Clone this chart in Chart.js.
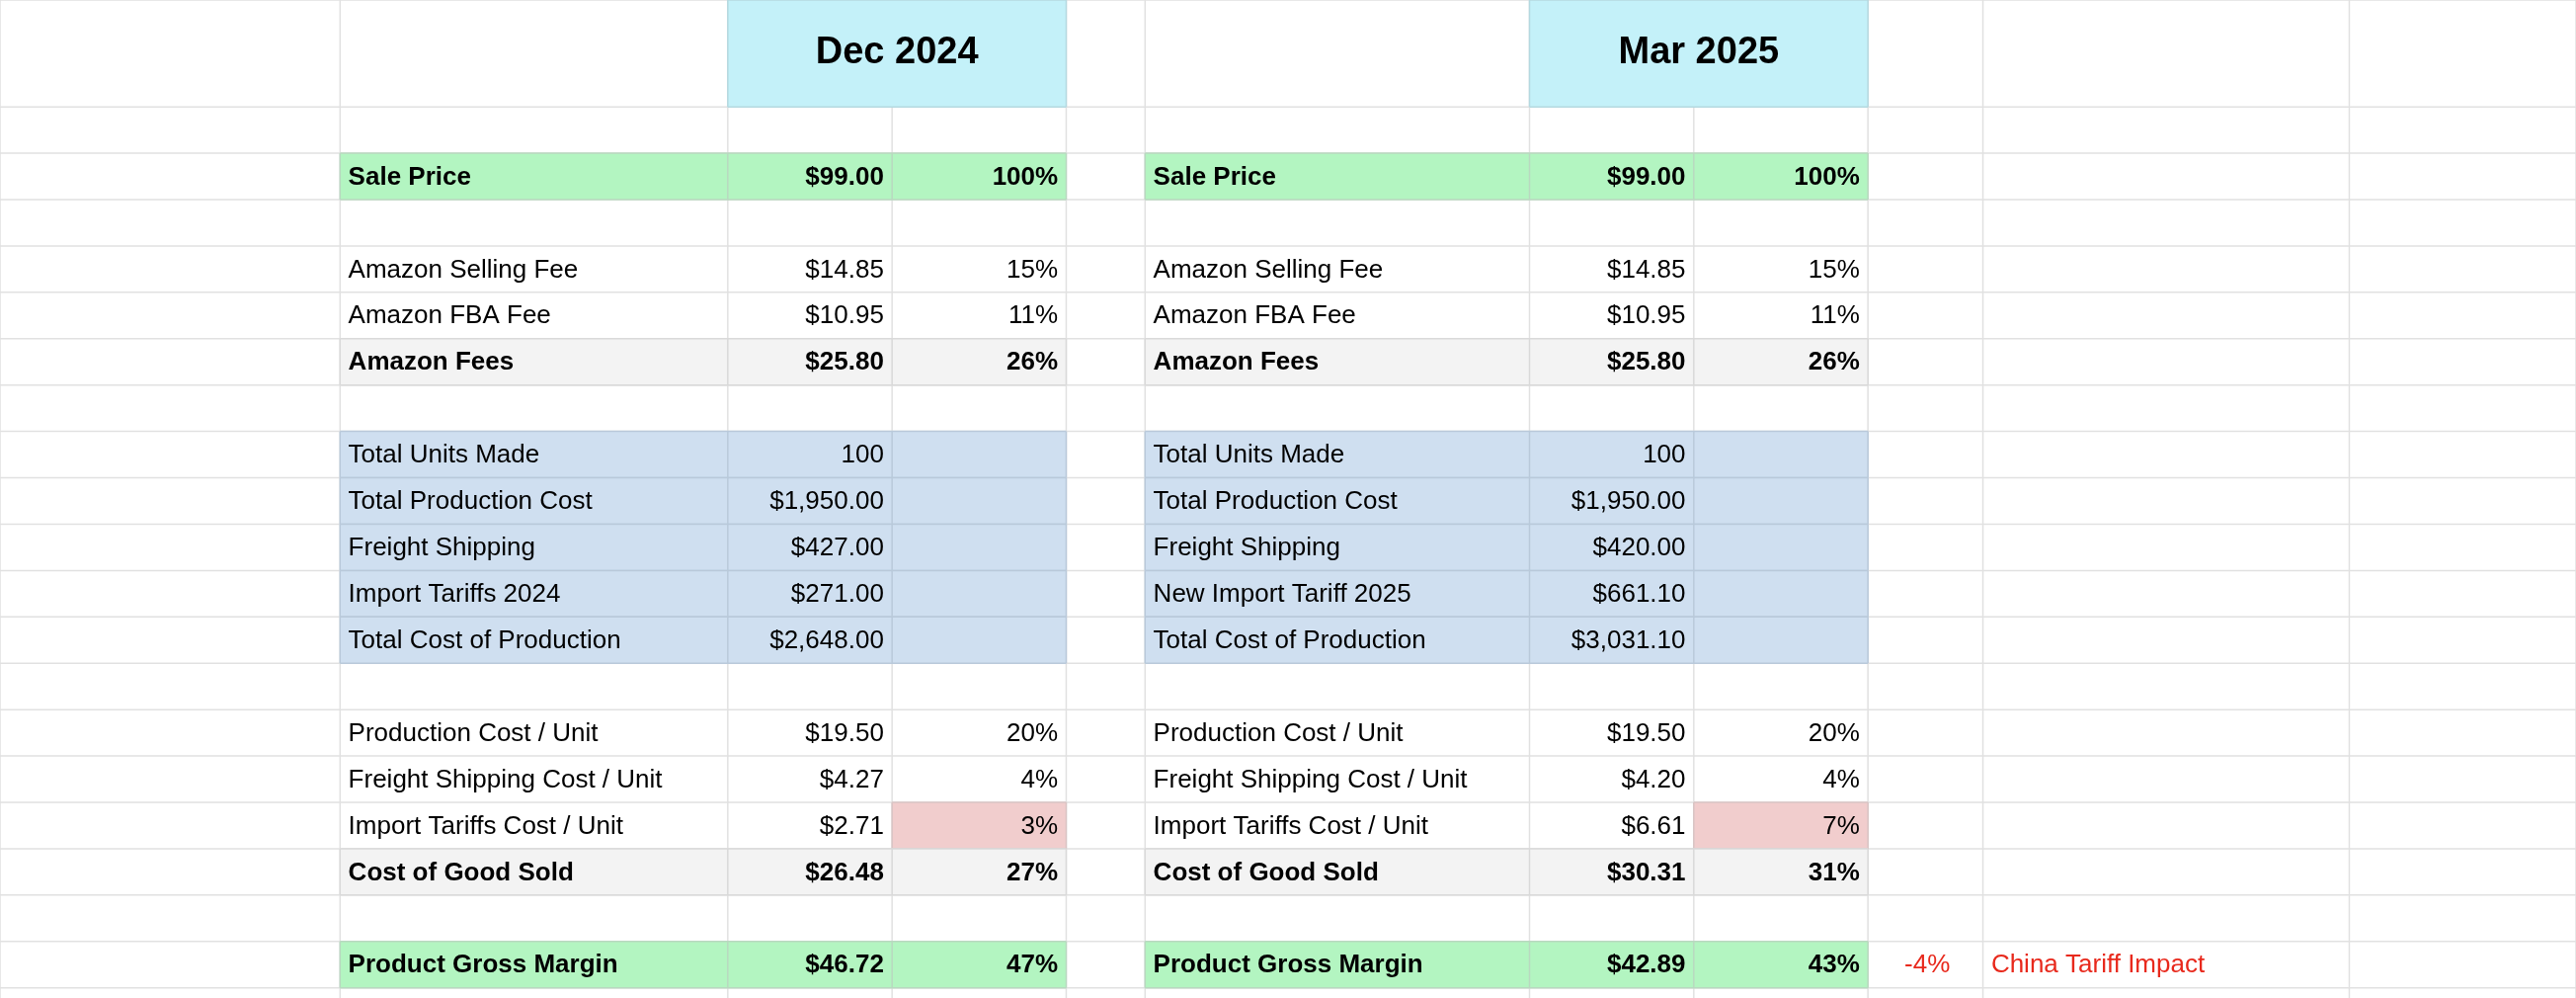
<!DOCTYPE html>
<html>
<head>
<meta charset="utf-8">
<script src="https://cdn.jsdelivr.net/npm/chart.js@4/dist/chart.umd.min.js"></script>
<style>
  html, body { margin: 0; padding: 0; background: #fff; }
  #wrap { width: 2608px; height: 1010px; }
</style>
</head>
<body>
<div id="wrap"><canvas id="sheet"></canvas></div>
<script>
// =======================
// DATA
// =======================
const periods = ["Dec 2024", "Mar 2025"];
const decLabels = ["", "", "Sale Price", "", "Amazon Selling Fee", "Amazon FBA Fee", "Amazon Fees", "",
  "Total Units Made", "Total Production Cost", "Freight Shipping", "Import Tariffs 2024", "Total Cost of Production", "",
  "Production Cost / Unit", "Freight Shipping Cost / Unit", "Import Tariffs Cost / Unit", "Cost of Good Sold", "", "Product Gross Margin"];
const marLabels = ["", "", "Sale Price", "", "Amazon Selling Fee", "Amazon FBA Fee", "Amazon Fees", "",
  "Total Units Made", "Total Production Cost", "Freight Shipping", "New Import Tariff 2025", "Total Cost of Production", "",
  "Production Cost / Unit", "Freight Shipping Cost / Unit", "Import Tariffs Cost / Unit", "Cost of Good Sold", "", "Product Gross Margin"];
const decValues = ["", "", "$99.00", "", "$14.85", "$10.95", "$25.80", "",
  "100", "$1,950.00", "$427.00", "$271.00", "$2,648.00", "", "$19.50", "$4.27", "$2.71", "$26.48", "", "$46.72"];
const decPcts = ["", "", "100%", "", "15%", "11%", "26%", "", "", "", "", "", "", "", "20%", "4%", "3%", "27%", "", "47%"];
const marValues = ["", "", "$99.00", "", "$14.85", "$10.95", "$25.80", "",
  "100", "$1,950.00", "$420.00", "$661.10", "$3,031.10", "", "$19.50", "$4.20", "$6.61", "$30.31", "", "$42.89"];
const marPcts = ["", "", "100%", "", "15%", "11%", "26%", "", "", "", "", "", "", "", "20%", "4%", "7%", "31%", "", "43%"];
const impactValue = "-4%";
const impactLabel = "China Tariff Impact";

// =======================
// STYLE PER ROW
// =======================
const rowKind = ["head", "", "green", "", "", "", "gray", "", "blue", "blue", "blue", "blue", "blue", "",
  "", "", "pink", "gray", "", "green"];
const boldRows = [2, 6, 17, 19];
const colors = { green: "#b3f5c1", gray: "#f3f3f3", blue: "#cfdff0", pink: "#f1cdcd", head: "#c4f1f9" };
const borders = { green: "#b9d8c0", gray: "#d9d9d9", blue: "#b9c9da", pink: "#d9c4c4", head: "#b5d9e0" };

// layout in reference units (1568 x 607)
const colEdges = [0, 207, 443, 543, 649, 697, 931, 1031, 1137, 1207, 1430, 1568];
const rowEdges = [0, 65];
for (let i = 1; i < 21; i++) rowEdges.push(65 + i * 28.2);

// =======================
// TABLE PLUGIN
// =======================
const tablePlugin = {
  id: "table",
  afterDraw(chart) {
    const ctx = chart.ctx;
    const xs = chart.scales.x, ys = chart.scales.y;
    const X = v => xs.getPixelForValue(v);
    const Y = v => ys.getPixelForValue(v);
    const fs = 26;

    // grid
    ctx.strokeStyle = "#e1e1e1";
    ctx.lineWidth = 1.5;
    colEdges.forEach(c => { ctx.beginPath(); ctx.moveTo(X(c), Y(0)); ctx.lineTo(X(c), Y(607)); ctx.stroke(); });
    rowEdges.forEach(r => { ctx.beginPath(); ctx.moveTo(X(0), Y(r)); ctx.lineTo(X(1568), Y(r)); ctx.stroke(); });

    // cell fills, merged header has no inner divider
    function fillCell(c0, c1, r, kind, inner) {
      const y0 = Y(rowEdges[r]), y1 = Y(rowEdges[r + 1]);
      ctx.fillStyle = colors[kind];
      ctx.fillRect(X(colEdges[c0]), y0, X(colEdges[c1]) - X(colEdges[c0]), y1 - y0);
      ctx.strokeStyle = borders[kind];
      ctx.lineWidth = 1.5;
      const cs = inner ? colEdges.slice(c0, c1 + 1) : [colEdges[c0], colEdges[c1]];
      cs.forEach(c => { ctx.beginPath(); ctx.moveTo(X(c), y0); ctx.lineTo(X(c), y1); ctx.stroke(); });
      ctx.beginPath(); ctx.moveTo(X(colEdges[c0]), y0); ctx.lineTo(X(colEdges[c1]), y0);
      ctx.moveTo(X(colEdges[c0]), y1); ctx.lineTo(X(colEdges[c1]), y1); ctx.stroke();
    }

    rowKind.forEach((k, r) => {
      if (k === "head") { fillCell(2, 4, r, k, false); fillCell(6, 8, r, k, false); }
      else if (k === "green" || k === "gray" || k === "blue") { fillCell(1, 4, r, k, true); fillCell(5, 8, r, k, true); }
      else if (k === "pink") { fillCell(3, 4, r, k, true); fillCell(7, 8, r, k, true); }
    });

    // header text
    ctx.fillStyle = "#000";
    ctx.textBaseline = "middle";
    ctx.textAlign = "center";
    ctx.font = "bold 38px 'Liberation Sans', Arial, sans-serif";
    const hy = Y(32);
    ctx.fillText(periods[0], X((colEdges[2] + colEdges[4]) / 2), hy);
    ctx.fillText(periods[1], X((colEdges[6] + colEdges[8]) / 2), hy);

    function txt(s, x, r, align, bold, color) {
      if (!s) return;
      ctx.font = (bold ? "bold " : "") + fs + "px 'Liberation Sans', Arial, sans-serif";
      ctx.textAlign = align;
      ctx.fillStyle = color || "#000";
      ctx.fillText(s, X(x), Y((rowEdges[r] + rowEdges[r + 1]) / 2) + 1);
    }
    for (let r = 1; r < decLabels.length; r++) {
      const b = boldRows.includes(r);
      txt(decLabels[r], colEdges[1] + 5, r, "left", b);
      txt(decValues[r], colEdges[3] - 5, r, "right", b);
      txt(decPcts[r], colEdges[4] - 5, r, "right", b);
      txt(marLabels[r], colEdges[5] + 5, r, "left", b);
      txt(marValues[r], colEdges[7] - 5, r, "right", b);
      txt(marPcts[r], colEdges[8] - 5, r, "right", b);
    }
    txt(impactValue, colEdges[9] - 20, 19, "right", false, "#e8291c");
    txt(impactLabel, colEdges[9] + 5, 19, "left", false, "#e8291c");
  }
};

new Chart(document.getElementById("sheet"), {
  type: "scatter",
  data: { datasets: [{ data: [] }] },
  options: {
    responsive: true,
    maintainAspectRatio: false,
    animation: false,
    layout: { padding: 0 },
    plugins: { legend: { display: false }, tooltip: { enabled: false } },
    scales: {
      x: { type: "linear", min: 0, max: 1568, display: false },
      y: { type: "linear", min: 0, max: 607, reverse: true, display: false }
    }
  },
  plugins: [tablePlugin]
});
</script>
</body>
</html>
